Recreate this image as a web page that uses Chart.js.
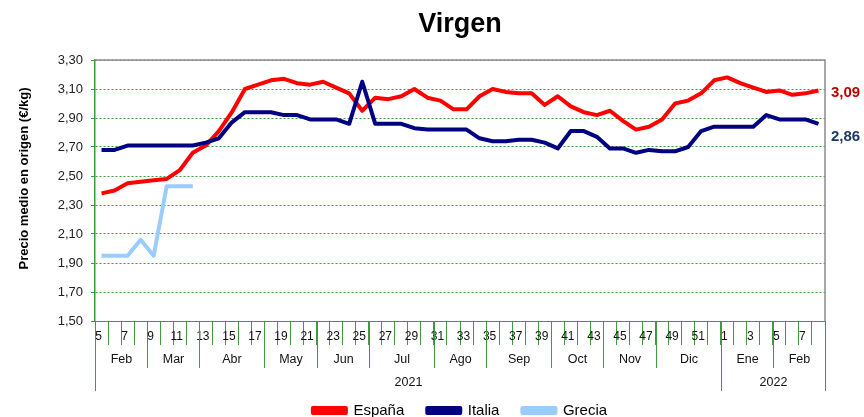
<!DOCTYPE html>
<html>
<head>
<meta charset="utf-8">
<script src="https://cdn.jsdelivr.net/npm/chart.js@4"></script>
<style>
  body { margin: 0; background: #fff; }
  #wrap { width: 864px; height: 417px; overflow: hidden; }
</style>
</head>
<body>
<div id="wrap"><canvas id="chart" width="864" height="428"></canvas></div>
<script>
// semanas 2021 (5-52) y 2022 (1-8)
const WEEKS = [5, 6, 7, 8, 9, 10, 11, 12, 13, 14, 15, 16, 17, 18, 19, 20, 21, 22, 23, 24,
  25, 26, 27, 28, 29, 30, 31, 32, 33, 34, 35, 36, 37, 38, 39, 40, 41, 42, 43, 44,
  45, 46, 47, 48, 49, 50, 51, 52, 1, 2, 3, 4, 5, 6, 7, 8];

const MONTHS = ['Feb', 'Mar', 'Abr', 'May', 'Jun', 'Jul', 'Ago', 'Sep', 'Oct', 'Nov', 'Dic', 'Ene', 'Feb'];
const MONTH_WEEKS = [4, 4, 5, 4, 4, 5, 4, 5, 4, 4, 5, 4, 4];
const YEARS = ['2021', '2022'];
const YEAR_WEEKS = [48, 8];

const ESPANA = [2.38, 2.40, 2.45, 2.46, 2.47, 2.48, 2.54, 2.66, 2.71, 2.81, 2.94, 3.10, 3.13, 3.16, 3.17, 3.14,
  3.13, 3.15, 3.11, 3.07, 2.95, 3.04, 3.03, 3.05, 3.10, 3.04, 3.02, 2.96, 2.96, 3.05, 3.10, 3.08,
  3.07, 3.07, 2.99, 3.05, 2.98, 2.94, 2.92, 2.95, 2.88, 2.82, 2.84, 2.89, 3.00, 3.02, 3.07, 3.16,
  3.18, 3.14, 3.11, 3.08, 3.09, 3.06, 3.07, 3.09];

const ITALIA = [2.68, 2.68, 2.71, 2.71, 2.71, 2.71, 2.71, 2.71, 2.73, 2.76, 2.87, 2.94, 2.94, 2.94, 2.92, 2.92,
  2.89, 2.89, 2.89, 2.86, 3.15, 2.86, 2.86, 2.86, 2.83, 2.82, 2.82, 2.82, 2.82, 2.76, 2.74, 2.74,
  2.75, 2.75, 2.73, 2.69, 2.81, 2.81, 2.77, 2.69, 2.69, 2.66, 2.68, 2.67, 2.67, 2.70, 2.81, 2.84,
  2.84, 2.84, 2.84, 2.92, 2.89, 2.89, 2.89, 2.86];

const GRECIA = [1.95, 1.95, 1.95, 2.06, 1.95, 2.43, 2.43, 2.43];

const FONT = "'Liberation Sans', Arial, sans-serif";
const GREEN = '#3c9c3c';
const END_COLORS = ['#c00000', '#1f3864'];

Chart.defaults.font.family = FONT;

const fmt = v => v.toFixed(2).replace('.', ',');

// filas de meses y años bajo el eje, título del eje y y etiquetas finales
const axisExtras = {
  id: 'axisExtras',
  afterDraw(chart) {
    const { ctx, chartArea: a, scales: { x, y } } = chart;
    const edge = k => Math.round(x.getPixelForValue(k - 0.5)) + 0.5;
    ctx.save();

    ctx.strokeStyle = '#8c8c8c';
    ctx.lineWidth = 1.5;
    ctx.beginPath();
    ctx.moveTo(a.left, a.top);
    ctx.lineTo(a.right, a.top);
    ctx.lineTo(a.right, a.bottom);
    ctx.stroke();

    ctx.strokeStyle = GREEN;
    ctx.lineWidth = 1;
    ctx.fillStyle = '#111';
    ctx.textAlign = 'center';
    ctx.textBaseline = 'middle';
    ctx.font = '12.5px ' + FONT;

    let k = 0;
    MONTHS.forEach((m, i) => {
      const x0 = edge(k), x1 = edge(k + MONTH_WEEKS[i]);
      ctx.beginPath();
      ctx.moveTo(x0, a.bottom);
      ctx.lineTo(x0, a.bottom + 47);
      ctx.stroke();
      ctx.fillText(m, (x0 + x1) / 2, a.bottom + 39);
      k += MONTH_WEEKS[i];
    });

    k = 0;
    YEARS.forEach((yr, i) => {
      const x0 = edge(k), x1 = edge(k + YEAR_WEEKS[i]);
      ctx.beginPath();
      ctx.moveTo(x0, a.bottom);
      ctx.lineTo(x0, a.bottom + 70);
      ctx.moveTo(x1, a.bottom);
      ctx.lineTo(x1, a.bottom + 70);
      ctx.stroke();
      ctx.fillText(yr, (x0 + x1) / 2, a.bottom + 62);
      k += YEAR_WEEKS[i];
    });

    // título eje y
    ctx.save();
    ctx.translate(24, (a.top + a.bottom) / 2 - 12);
    ctx.rotate(-Math.PI / 2);
    ctx.font = 'bold 13px ' + FONT;
    ctx.fillStyle = '#000';
    ctx.fillText('Precio medio en origen (€/kg)', 0, 0);
    ctx.restore();

    // últimos valores
    ctx.textAlign = 'left';
    ctx.font = 'bold 15px ' + FONT;
    [ESPANA, ITALIA].forEach((serie, i) => {
      const last = serie[serie.length - 1];
      ctx.fillStyle = END_COLORS[i];
      ctx.fillText(fmt(last), a.right + 6, y.getPixelForValue(last) + (i === 1 ? 13 : 2));
    });

    ctx.restore();
  }
};

new Chart(document.getElementById('chart').getContext('2d'), {
  type: 'line',
  data: {
    labels: WEEKS,
    datasets: [
      { label: 'España', data: ESPANA, borderColor: '#ff0000', backgroundColor: '#ff0000', order: 1 },
      { label: 'Italia', data: ITALIA, borderColor: '#000080', backgroundColor: '#000080', order: 0 },
      { label: 'Grecia', data: GRECIA, borderColor: '#99ccff', backgroundColor: '#99ccff', order: 2 },
    ],
  },
  options: {
    responsive: false,
    animation: false,
    layout: { padding: { left: 0, right: 39, top: 0, bottom: 0 } },
    elements: {
      line: { borderWidth: 4, tension: 0, borderJoinStyle: 'round' },
      point: { radius: 0 },
    },
    plugins: {
      title: {
        display: true,
        text: 'Virgen',
        fullSize: false,
        color: '#000',
        font: { size: 27, weight: 'bold' },
        padding: { top: 8, bottom: 19.6 },
      },
      legend: {
        position: 'bottom',
        fullSize: false,
        labels: {
          boxWidth: 33,
          boxHeight: 5,
          padding: 23,
          color: '#000',
          font: { size: 15 },
          sort: (a, b) => a.datasetIndex - b.datasetIndex,
        },
      },
      tooltip: { enabled: false },
    },
    scales: {
      x: {
        offset: true,
        grid: { offset: true, drawOnChartArea: false, tickLength: 24, color: GREEN, tickColor: GREEN },
        border: { color: GREEN, width: 1 },
        ticks: {
          autoSkip: false,
          maxRotation: 0,
          padding: -16,
          labelOffset: -3,
          color: '#111',
          font: { size: 12 },
          callback: (v, i) => (WEEKS[i] % 2 ? WEEKS[i] : ''),
        },
        afterFit: s => { s.height = 59; },
      },
      y: {
        min: 1.5,
        max: 3.3,
        ticks: { stepSize: 0.2, padding: 8, color: '#222', font: { size: 13 }, callback: v => fmt(v) },
        grid: { color: GREEN, tickColor: GREEN, tickLength: 4, tickBorderDash: [] },
        border: { color: GREEN, width: 1.5, dash: [2, 2] },
        afterFit: s => { s.width = 95; },
      },
    },
  },
  plugins: [axisExtras],
});
</script>
</body>
</html>
